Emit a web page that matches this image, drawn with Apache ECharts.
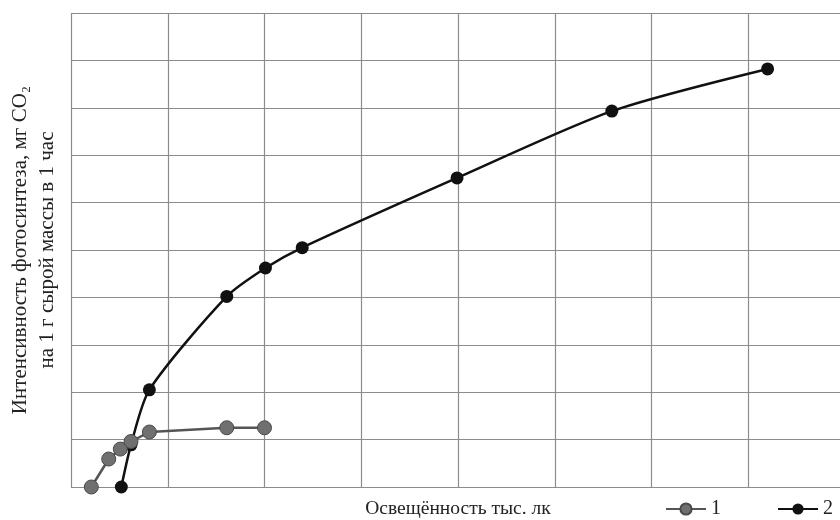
<!DOCTYPE html>
<html>
<head>
<meta charset="utf-8">
<script src="https://cdn.jsdelivr.net/npm/echarts@6/dist/echarts.min.js"></script>
<style>
html,body{margin:0;padding:0;background:#fff;}
#main{width:840px;height:520px;}
</style>
</head>
<body>
<div id="main"></div>
<script>
// освещённость в клетках сетки, интенсивность в клетках сетки
var xData1 = [0.21, 0.39, 0.51, 0.62, 0.81, 1.61, 2.0];
var yData1 = [0, 0.59, 0.80, 0.96, 1.16, 1.25, 1.25];
var xData2 = [0.52, 0.62, 0.81, 1.61, 2.01, 2.39, 3.99, 5.59, 7.2];
var yData2 = [0, 0.89, 2.05, 4.02, 4.62, 5.05, 6.52, 7.93, 8.82];
var seriesNames = ['1', '2'];

function pairs(xs, ys) {
    var res = [];
    for (var i = 0; i < xs.length; i++) {
        res.push([xs[i], ys[i]]);
    }
    return res;
}

var myChart = echarts.init(document.getElementById('main'));
var gridLine = {show: true, lineStyle: {color: '#8c8c8c', width: 1.2}};

var option = {
    backgroundColor: '#fff',
    textStyle: {fontFamily: 'Liberation Serif'},
    grid: {left: 71, right: -5, top: 13, bottom: 33, outerBoundsMode: 'none', containLabel: false},
    legend: {
        data: seriesNames,
        left: 665,
        top: 499,
        padding: 0,
        itemWidth: 40,
        itemHeight: 14,
        itemGap: 56,
        textStyle: {fontSize: 20, color: '#222', fontFamily: 'Liberation Serif'}
    },
    xAxis: {
        type: 'value',
        min: 0,
        max: 8,
        interval: 1,
        name: 'Освещённость тыс. лк',
        nameLocation: 'middle',
        nameGap: 12,
        nameTextStyle: {fontSize: 19.5, color: '#222', verticalAlign: 'top'},
        axisLine: {show: false},
        axisTick: {show: false},
        axisLabel: {show: false},
        splitLine: gridLine
    },
    yAxis: {
        type: 'value',
        min: 0,
        max: 10,
        interval: 1,
        name: 'Интенсивность фотосинтеза, мг CO₂\nна 1 г сырой массы в 1 час',
        nameLocation: 'middle',
        nameRotate: 90,
        nameGap: 10,
        nameTextStyle: {fontSize: 21, color: '#222', lineHeight: 27},
        axisLine: {show: false},
        axisTick: {show: false},
        axisLabel: {show: false},
        splitLine: gridLine
    },
    series: [
        {
            name: '2',
            type: 'line',
            smooth: 0.25,
            data: pairs(xData2, yData2),
            symbol: 'circle',
            symbolSize: 13,
            itemStyle: {color: '#111'},
            lineStyle: {color: '#111', width: 2.5},
            z: 2
        },
        {
            name: '1',
            type: 'line',
            data: pairs(xData1, yData1),
            symbol: 'circle',
            symbolSize: 14,
            itemStyle: {color: '#707070', borderColor: '#4a4a4a', borderWidth: 1},
            lineStyle: {color: '#555', width: 2.5},
            z: 3
        }
    ]
};
myChart.setOption(option);
</script>
</body>
</html>
